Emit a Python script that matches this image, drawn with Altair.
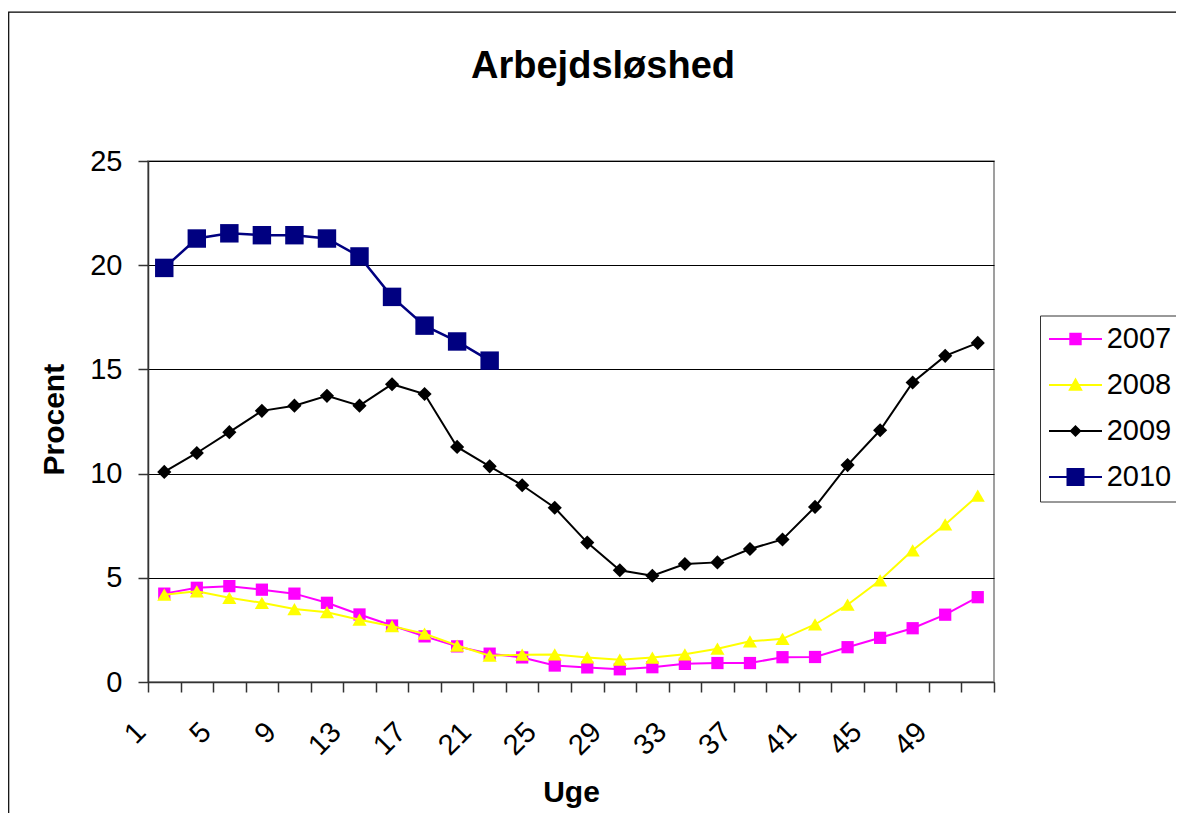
import altair as alt
import pandas as pd

# ---------------- data ----------------
years = ["2007", "2008", "2009", "2010"]
colors = ["#FF00FF", "#FFFF00", "#000000", "#000080"]
weeks = list(range(1, 52, 2))  # 1, 3, ..., 51

v2007 = [4.24, 4.52, 4.60, 4.43, 4.24, 3.80, 3.24, 2.71, 2.19, 1.71, 1.36, 1.18, 0.79,
         0.70, 0.61, 0.71, 0.87, 0.91, 0.91, 1.19, 1.20, 1.67, 2.12, 2.58, 3.23, 4.07]
v2008 = [4.19, 4.35, 4.04, 3.80, 3.50, 3.35, 2.99, 2.68, 2.32, 1.75, 1.26, 1.31, 1.32,
         1.18, 1.07, 1.17, 1.33, 1.60, 1.95, 2.07, 2.76, 3.71, 4.88, 6.32, 7.56, 8.94]
v2009 = [10.08, 10.99, 11.99, 13.01, 13.26, 13.73, 13.26, 14.29, 13.82, 11.28, 10.35, 9.44, 8.36,
         6.69, 5.36, 5.10, 5.66, 5.74, 6.38, 6.84, 8.40, 10.41, 12.08, 14.37, 15.65, 16.27]
v2010 = [19.87, 21.28, 21.53, 21.44, 21.44, 21.28, 20.42, 18.48, 17.10, 16.34, 15.42]

y_ticks = [0, 5, 10, 15, 20, 25]
x_ticks = list(range(0, 53, 2))

rows = []
for yr, vals in zip(years, [v2007, v2008, v2009, v2010]):
    for w, v in zip(weeks, vals):
        rows.append({"week": w, "year": yr, "value": v})
df = pd.DataFrame(rows)

FONT = "Liberation Sans"

# ---------------- encodings ----------------
x_enc = alt.X(
    "week:Q",
    scale=alt.Scale(domain=[0, 52], nice=False, zero=False),
    axis=alt.Axis(
        values=x_ticks,
        labelExpr="datum.value % 4 == 0 && datum.value <= 48 ? '' + (datum.value + 1) : ''",
        labelAngle=-45, labelAlign="right", labelBaseline="middle",
        labelOffset=-7.4, labelPadding=35, labelOverlap=False, labelFlush=False,
        grid=False, tickSize=10, title="Uge",
        titleY=119.7, titleBaseline="alphabetic",
    ),
)
y_enc = alt.Y(
    "value:Q",
    scale=alt.Scale(domain=[0, 25], nice=False),
    axis=alt.Axis(
        values=y_ticks, grid=True, tickSize=10, labelPadding=16,
        title="Procent", titleX=-84.7, titleY=258.2, titleAngle=270,
        titleBaseline="alphabetic", titleAlign="center",
    ),
)

base = alt.Chart(df).encode(x=x_enc, y=y_enc)

styles = [
    ("2007", "square", 150, "#FF00FF", 2),
    ("2008", "triangle-up", 200, "#FFFF00", 2),
    ("2009", "diamond", 200, "#000000", 2),
    ("2010", "square", 340, "#000080", 2.5),
]

# decorative outer chart frame
frame = alt.Chart(alt.Data(values=[{"k": 1}])).mark_rect(
    fill="transparent", stroke="#000000", strokeWidth=1.2
).encode(
    x=alt.value(-139.3), x2=alt.value(1400), y=alt.value(-148.8), y2=alt.value(900)
)

layers = [frame]
for yr, shp, sz, col, sw in styles:
    sub = base.transform_filter(alt.datum.year == yr)
    layers.append(sub.mark_line(color=col, strokeWidth=sw))
    layers.append(sub.mark_point(shape=shp, size=sz, filled=True, opacity=1, color=col))

# legend (symbols combine a line segment and the marker)
legend_paths = [
    "M-2.65,0H2.65M-0.52,-0.52H0.52V0.52H-0.52Z",
    "M-2.65,0H2.65M0,-0.55L0.56,0.48H-0.56Z",
    "M-2.65,0H2.65M0,-0.46L0.46,0L0,0.46L-0.46,0Z",
    "M-2.65,0H2.65M-0.8,-0.8H0.8V0.8H-0.8Z",
]
leg = alt.Legend(
    title=None, orient="none", legendX=892, legendY=154.5, direction="vertical",
    symbolSize=400, symbolStrokeWidth=2, symbolOffset=12, labelOffset=16.7,
    labelFont=FONT, labelFontSize=29, labelColor="#000000",
    rowPadding=16, padding=9, strokeColor="#333333", fillColor="#FFFFFF",
    symbolOpacity=1,
)
legend_layer = alt.Chart(df).transform_filter("false").mark_point(
    filled=True, opacity=1, size=400, strokeWidth=2
).encode(
    fill=alt.Fill("year:N", scale=alt.Scale(domain=years, range=colors), legend=leg),
    stroke=alt.Stroke("year:N", scale=alt.Scale(domain=years, range=colors), legend=leg),
    shape=alt.Shape("year:N", scale=alt.Scale(domain=years, range=legend_paths), legend=leg),
)
layers.append(legend_layer)

chart = alt.layer(*layers).properties(
    width=846, height=521,
    padding={"left": 140, "top": 153, "right": 182, "bottom": 131},
    autosize=alt.AutoSizeParams(type="none"),
    background="#FFFFFF",
    title=alt.TitleParams(
        "Arbejdsløshed", font=FONT, fontSize=38, fontWeight="bold", color="#000000",
        anchor="middle", frame="group", dx=32, dy=104, offset=0, baseline="alphabetic",
    ),
).configure_view(
    fill="#C0C0C0", stroke="#808080", strokeWidth=1.5
).configure_axis(
    labelFont=FONT, labelFontSize=29, labelColor="#000000",
    titleFont=FONT, titleFontSize=30, titleFontWeight="bold", titleColor="#000000",
    tickColor="#333333", tickWidth=1.5, domainColor="#333333", domainWidth=1.5,
    gridColor="#000000", gridWidth=1,
)

chart.save("out.html", embed_options={"renderer": "svg", "actions": False})
